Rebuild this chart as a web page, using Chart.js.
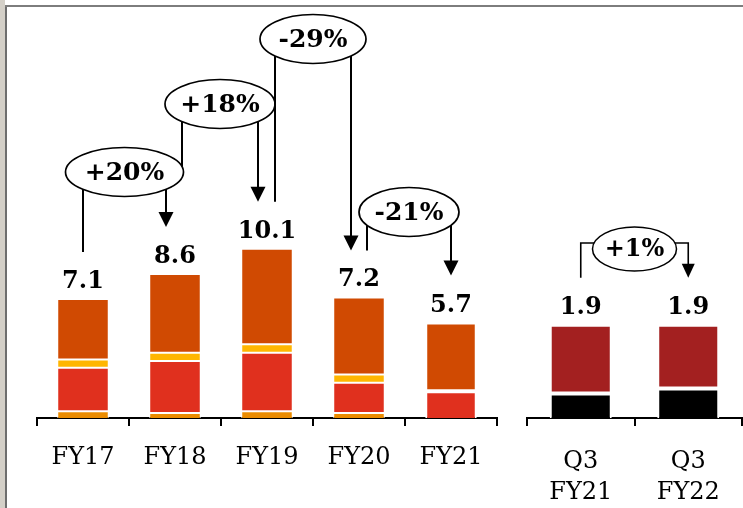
<!DOCTYPE html>
<html>
<head>
<meta charset="utf-8">
<script src="https://cdn.jsdelivr.net/npm/chart.js@4/dist/chart.umd.min.js"></script>
<style>
  html, body { margin: 0; padding: 0; background: #fff; width: 743px; height: 508px; overflow: hidden; position: relative; }
  #edge  { position: absolute; left: 0; top: 0; width: 5px; height: 508px; background: #d4d0c8; }
  #vline { position: absolute; left: 5px; top: 5px; width: 2px; height: 503px; background: #6e6e6e; }
  #hline { position: absolute; left: 5px; top: 5px; width: 738px; height: 2px; background: #7d7d7d; }
  #annual  { position: absolute; left: 0; top: 0; }
  #quarter { position: absolute; left: 510px; top: 0; }
</style>
</head>
<body>
<div id="edge"></div><div id="vline"></div><div id="hline"></div>
<canvas id="annual" width="510" height="508"></canvas>
<canvas id="quarter" width="233" height="508"></canvas>
<script>
// Annual figures, stacked from the axis upward
const years      = ['FY17', 'FY18', 'FY19', 'FY20', 'FY21'];
const baseSeg    = [0.4, 0.3, 0.4, 0.3, 0.0];
const redSeg     = [2.6, 3.1, 3.5, 1.8, 1.6];
const yellowSeg  = [0.5, 0.5, 0.5, 0.5, 0.0];
const topSeg     = [3.6, 4.7, 5.7, 4.6, 4.1];
const yearChanges = ['+20%', '+18%', '-29%', '-21%'];

// Quarterly figures
const quarters     = [['Q3', 'FY21'], ['Q3', 'FY22']];
const blackSeg     = [0.5, 0.6];
const darkRedSeg   = [1.4, 1.3];
const quarterChanges = ['+1%'];

const SERIF = '"DejaVu Serif", "Liberation Serif", serif';

function stackTotal(chart, i) {
  return chart.data.datasets.reduce((s, d) => s + d.data[i], 0);
}

// Total written above each stacked bar
const totalsPlugin = {
  id: 'totals',
  afterDatasetsDraw(chart) {
    const { ctx } = chart;
    const xs = chart.scales.x, ys = chart.scales.y;
    ctx.save();
    ctx.font = 'bold 24px ' + SERIF;
    ctx.fillStyle = '#000';
    ctx.textAlign = 'center';
    ctx.textBaseline = 'alphabetic';
    chart.data.labels.forEach((_, i) => {
      const t = stackTotal(chart, i);
      ctx.fillText(t.toFixed(1), xs.getPixelForValue(i), ys.getPixelForValue(t) - 11);
    });
    ctx.restore();
  }
};

// Change bubbles with connector legs between neighbouring bars
const bracketPlugin = {
  id: 'brackets',
  afterDraw(chart, args, o) {
    if (!o || !o.labels) return;
    const { ctx } = chart;
    const xs = chart.scales.x, ys = chart.scales.y;
    const legEnd = i => ys.getPixelForValue(stackTotal(chart, i)) - 47;
    const bubbles = o.labels.map((txt, k) => {
      const x1 = xs.getPixelForValue(k) + o.leftOff[k];
      const x2 = xs.getPixelForValue(k + 1) + o.rightOff[k];
      return { txt, x1, x2, cx: (x1 + x2) / 2, cy: o.bubbleY[k], rx: o.rx[k], ry: o.ry };
    });
    const arrow = (x, tipY) => {
      ctx.beginPath();
      ctx.moveTo(x - o.headW / 2, tipY - o.headH);
      ctx.lineTo(x + o.headW / 2, tipY - o.headH);
      ctx.lineTo(x, tipY);
      ctx.closePath();
      ctx.fill();
    };
    ctx.save();
    ctx.strokeStyle = '#000';
    ctx.fillStyle = '#000';
    bubbles.forEach((b, k) => {
      let leftEnd = legEnd(k);
      if (o.stopAtPrev && o.stopAtPrev[k] && k > 0) {
        const p = bubbles[k - 1];
        const dx = (b.x1 - p.cx) / p.rx;
        leftEnd = p.cy - p.ry * Math.sqrt(Math.max(0, 1 - dx * dx));
      }
      const rightEnd = legEnd(k + 1);
      ctx.lineWidth = o.lineWidth;
      ctx.beginPath();
      if (o.elbow) {
        ctx.moveTo(b.cx, o.elbowY); ctx.lineTo(b.x1, o.elbowY); ctx.lineTo(b.x1, leftEnd);
        ctx.moveTo(b.cx, o.elbowY); ctx.lineTo(b.x2, o.elbowY); ctx.lineTo(b.x2, rightEnd - o.headH + 1);
      } else {
        ctx.moveTo(b.x1, b.cy); ctx.lineTo(b.x1, leftEnd);
        ctx.moveTo(b.x2, b.cy); ctx.lineTo(b.x2, rightEnd - o.headH + 1);
      }
      ctx.stroke();
      arrow(b.x2, rightEnd);

      ctx.beginPath();
      ctx.ellipse(b.cx, b.cy, b.rx, b.ry, 0, 0, Math.PI * 2);
      ctx.fillStyle = '#fff';
      ctx.fill();
      ctx.lineWidth = o.ellipseWidth;
      ctx.stroke();
      ctx.fillStyle = '#000';
      ctx.font = 'bold ' + o.fontSize + 'px ' + SERIF;
      ctx.textAlign = 'center';
      ctx.textBaseline = 'middle';
      ctx.fillText(b.txt, b.cx, b.cy + 1);
    });
    ctx.restore();
  }
};

function xAxis(height, pad) {
  return {
    stacked: true,
    offset: true,
    border: { display: true, color: '#000', width: 2 },
    grid: { offset: true, drawOnChartArea: false, drawTicks: true, tickLength: 8, color: '#000', lineWidth: 2 },
    ticks: { color: '#000', padding: pad, font: { family: SERIF, size: 24, lineHeight: 1.3 }, maxRotation: 0, autoSkip: false },
    afterFit(scale) { scale.height = height; }
  };
}

// The lowest non-empty segment of each bar sits directly on the axis
function skipAtAxis(c) {
  const i = c.dataIndex;
  const below = c.chart.data.datasets.slice(0, c.datasetIndex).reduce((s, d) => s + d.data[i], 0);
  return below === 0 ? 'start' : false;
}

function seg(label, data, color, bw) {
  return { label, data, backgroundColor: color, borderColor: '#fff', borderWidth: bw, borderSkipped: skipAtAxis };
}

const segBw = [1, 1, 1, 1, 2];

new Chart(document.getElementById('annual'), {
  type: 'bar',
  data: {
    labels: years,
    datasets: [
      seg('Base', baseSeg, '#EB8C00', segBw),
      seg('Red', redSeg, '#E0301E', segBw),
      seg('Yellow', yellowSeg, '#FFB600', segBw),
      seg('Top', topSeg, '#D04A02', segBw)
    ]
  },
  options: {
    responsive: false,
    animation: false,
    categoryPercentage: 1,
    barPercentage: 0.56,
    layout: { padding: { left: 37, right: 13, top: 16, bottom: 0 } },
    scales: {
      x: xAxis(90, 16),
      y: { stacked: true, display: false, min: 0, max: 24 }
    },
    plugins: {
      legend: { display: false },
      tooltip: { enabled: false },
      brackets: {
        labels: yearChanges,
        bubbleY: [172, 104, 39, 212],
        rx: [59, 55, 53, 50],
        ry: 24.5,
        leftOff: [0, 7, 8, 8],
        rightOff: [-9, -9, -8, 0],
        stopAtPrev: [false, true, false, false],
        lineWidth: 2,
        ellipseWidth: 1.7,
        headW: 15,
        headH: 15,
        fontSize: 25,
        elbow: false
      }
    }
  },
  plugins: [totalsPlugin, bracketPlugin]
});

new Chart(document.getElementById('quarter'), {
  type: 'bar',
  data: {
    labels: quarters,
    datasets: [
      seg('Black', blackSeg, '#000000', 2),
      seg('Dark red', darkRedSeg, '#A32020', 2)
    ]
  },
  options: {
    responsive: false,
    animation: false,
    categoryPercentage: 1,
    barPercentage: 0.577,
    layout: { padding: { left: 17, right: 1, top: 25.2, bottom: 0 } },
    scales: {
      x: xAxis(90, 20),
      y: { stacked: true, display: false, min: 0, max: 8 }
    },
    plugins: {
      legend: { display: false },
      tooltip: { enabled: false },
      brackets: {
        labels: quarterChanges,
        bubbleY: [249],
        rx: [42],
        ry: 22,
        leftOff: [0],
        rightOff: [0],
        lineWidth: 1.6,
        ellipseWidth: 1.5,
        headW: 13,
        headH: 14,
        fontSize: 24,
        elbow: true,
        elbowY: 243
      }
    }
  },
  plugins: [totalsPlugin, bracketPlugin]
});
</script>
</body>
</html>
